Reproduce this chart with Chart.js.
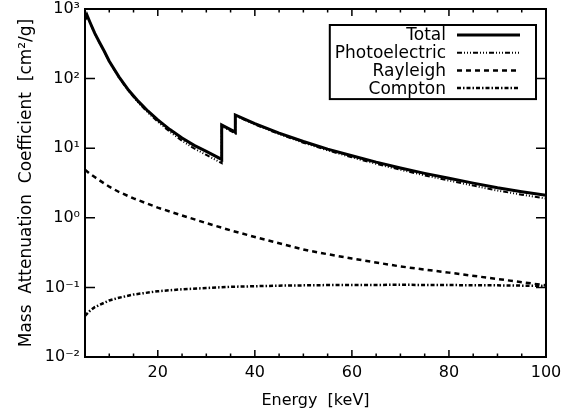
<!DOCTYPE html>
<html>
<head>
<meta charset="utf-8">
<script src="https://cdn.jsdelivr.net/npm/chart.js@4"></script>
<style>
  html, body { margin: 0; padding: 0; background: #fff; }
  canvas { display: block; }
</style>
</head>
<body>
<canvas id="chart" width="571" height="414"></canvas>
<script>
// energies with the K edges repeated (I at 33.17 keV, Cs at 35.98 keV)
const energyEdges = [5, 5.4, 6, 7, 8, 9, 10, 12, 14, 16, 18, 20, 22.5, 25, 27.5, 30,
  33.17, 33.17, 34.5, 35.98, 35.98, 38, 40, 45, 50, 55, 60, 65, 70, 75, 80, 85, 90, 95, 100];
const totalValues = [700, 820, 650, 450, 330, 245, 178, 106, 68, 47, 34, 25.5, 18.5, 14, 11, 9.0,
  6.9, 21.5, 19.3, 17.0, 30, 26, 22.5, 16.5, 12.5, 9.7, 7.8, 6.3, 5.2, 4.35, 3.7, 3.15, 2.7, 2.37, 2.1];
const photoValues = [695, 815, 645, 446, 326, 242, 175, 103.5, 66, 45, 32.4, 24, 17.2, 12.8, 9.9, 8.0,
  6.1, 20.7, 18.5, 16.3, 29.3, 25.3, 21.9, 15.95, 12.0, 9.3, 7.4, 5.95, 4.9, 4.07, 3.43, 2.9, 2.46, 2.15, 1.89];

const energySmooth = [5, 6, 7, 8, 10, 12, 15, 20, 25, 30, 35, 40, 45, 50, 55, 60, 70, 80, 90, 100];
const rayleighValues = [4.9, 4.3, 3.85, 3.45, 2.8, 2.35, 1.9, 1.4, 1.08, 0.84, 0.66, 0.53, 0.43, 0.35,
  0.3, 0.26, 0.2, 0.163, 0.132, 0.107];
const comptonValues = [0.039, 0.046, 0.052, 0.056, 0.065, 0.071, 0.079, 0.088, 0.094, 0.098, 0.102,
  0.104, 0.106, 0.107, 0.108, 0.108, 0.109, 0.108, 0.107, 0.105];

const xTickValues = [20, 40, 60, 80, 100];
const xMinorTickValues = [10, 15, 25, 30, 35, 45, 50, 55, 65, 70, 75, 85, 90, 95];
const yTickValues = [0.01, 0.1, 1, 10, 100, 1000];
const yTickLabels = ['10⁻²', '10⁻¹', '10⁰', '10¹', '10²', '10³'];

function toPoints(xs, ys) {
  return xs.map((x, i) => ({ x, y: ys[i] }));
}

Chart.defaults.font.family = '"DejaVu Sans", sans-serif';
Chart.defaults.color = '#000';

// box around the plot with inward ticks on all four sides
const framePlugin = {
  id: 'frame',
  afterDatasetsDraw(chart) {
    const { ctx, chartArea: a, scales: { x, y } } = chart;
    ctx.save();
    ctx.strokeStyle = '#000';
    ctx.lineWidth = 2;
    ctx.strokeRect(a.left, a.top, a.right - a.left, a.bottom - a.top);
    ctx.lineWidth = 1.5;
    ctx.beginPath();
    const xTick = (v, len) => {
      const px = x.getPixelForValue(v);
      ctx.moveTo(px, a.bottom); ctx.lineTo(px, a.bottom - len);
      ctx.moveTo(px, a.top); ctx.lineTo(px, a.top + len);
    };
    xTickValues.forEach((v) => xTick(v, 7));
    xMinorTickValues.forEach((v) => xTick(v, 3.5));
    yTickValues.forEach((v) => {
      const py = y.getPixelForValue(v);
      ctx.moveTo(a.left, py); ctx.lineTo(a.left + 10, py);
      ctx.moveTo(a.right, py); ctx.lineTo(a.right - 10, py);
    });
    ctx.stroke();
    ctx.restore();
  },
};

// legend with right-aligned labels and line samples on the right
const boxLegendPlugin = {
  id: 'boxLegend',
  afterDraw(chart) {
    const { ctx, chartArea: a } = chart;
    const sets = chart.data.datasets;
    ctx.save();
    ctx.font = '17px "DejaVu Sans"';
    const textW = Math.max(...sets.map((d) => ctx.measureText(d.label).width));
    const rowH = 17.7;
    const right = a.right - 10;
    const top = a.top + 16;
    const lineEnd = right - 16;
    const lineStart = lineEnd - 63;
    const textRight = lineStart - 11;
    const left = textRight - textW - 5;
    const bottom = top + 21 + rowH * (sets.length - 1);

    ctx.fillStyle = '#fff';
    ctx.fillRect(left, top, right - left, bottom - top);
    ctx.strokeStyle = '#000';
    ctx.lineWidth = 2;
    ctx.strokeRect(left, top, right - left, bottom - top);

    ctx.textAlign = 'right';
    ctx.textBaseline = 'middle';
    ctx.fillStyle = '#000';
    sets.forEach((d, i) => {
      const cy = top + 10 + rowH * i;
      ctx.fillText(d.label, textRight, cy + 1);
      ctx.beginPath();
      ctx.setLineDash(d.borderDash || []);
      ctx.lineWidth = d.borderWidth;
      ctx.moveTo(lineStart, cy);
      ctx.lineTo(lineEnd, cy);
      ctx.stroke();
    });
    ctx.restore();
  },
};

new Chart(document.getElementById('chart'), {
  type: 'line',
  data: {
    datasets: [
      {
        label: 'Total',
        data: toPoints(energyEdges, totalValues),
        borderColor: '#000',
        borderWidth: 3,
        borderDash: [],
      },
      {
        label: 'Photoelectric',
        data: toPoints(energyEdges, photoValues),
        borderColor: '#000',
        borderWidth: 2,
        borderDash: [5, 2, 1, 2, 1, 2, 1, 2],
      },
      {
        label: 'Rayleigh',
        data: toPoints(energySmooth, rayleighValues),
        borderColor: '#000',
        borderWidth: 2.5,
        borderDash: [5, 4],
      },
      {
        label: 'Compton',
        data: toPoints(energySmooth, comptonValues),
        borderColor: '#000',
        borderWidth: 2.5,
        borderDash: [4, 2, 1.5, 2],
      },
    ],
  },
  options: {
    responsive: false,
    animation: false,
    layout: { padding: { top: 9, right: 25, left: 0, bottom: 0 } },
    elements: {
      point: { radius: 0 },
      line: { tension: 0, fill: false, borderCapStyle: 'butt', borderJoinStyle: 'miter' },
    },
    plugins: {
      legend: { display: false },
      tooltip: { enabled: false },
    },
    scales: {
      x: {
        type: 'linear',
        min: 5,
        max: 100,
        grid: { display: false, drawTicks: false },
        border: { display: false },
        afterBuildTicks: (s) => { s.ticks = xTickValues.map((v) => ({ value: v })); },
        ticks: { padding: 6, font: { size: 16 }, maxRotation: 0, autoSkip: false },
        title: {
          display: true,
          text: 'Energy  [keV]',
          font: { size: 16 },
          padding: { top: 0, bottom: 4 },
        },
        afterFit: (s) => { s.height = 57; s.paddingLeft = 0; s.paddingRight = 0; },
      },
      y: {
        type: 'logarithmic',
        min: 0.01,
        max: 1000,
        grid: { display: false, drawTicks: false },
        border: { display: false },
        afterBuildTicks: (s) => { s.ticks = yTickValues.map((v) => ({ value: v })); },
        ticks: {
          padding: 5,
          font: { size: 16 },
          autoSkip: false,
          callback: (v) => yTickLabels[yTickValues.indexOf(v)] || '',
        },
        title: {
          display: true,
          text: 'Mass  Attenuation  Coefficient  [cm²/g]',
          font: { size: 17 },
          padding: { top: 16, bottom: 0 },
        },
        afterFit: (s) => { s.width = 85; s.paddingTop = 0; s.paddingBottom = 0; },
      },
    },
  },
  plugins: [framePlugin, boxLegendPlugin],
});
</script>
</body>
</html>
